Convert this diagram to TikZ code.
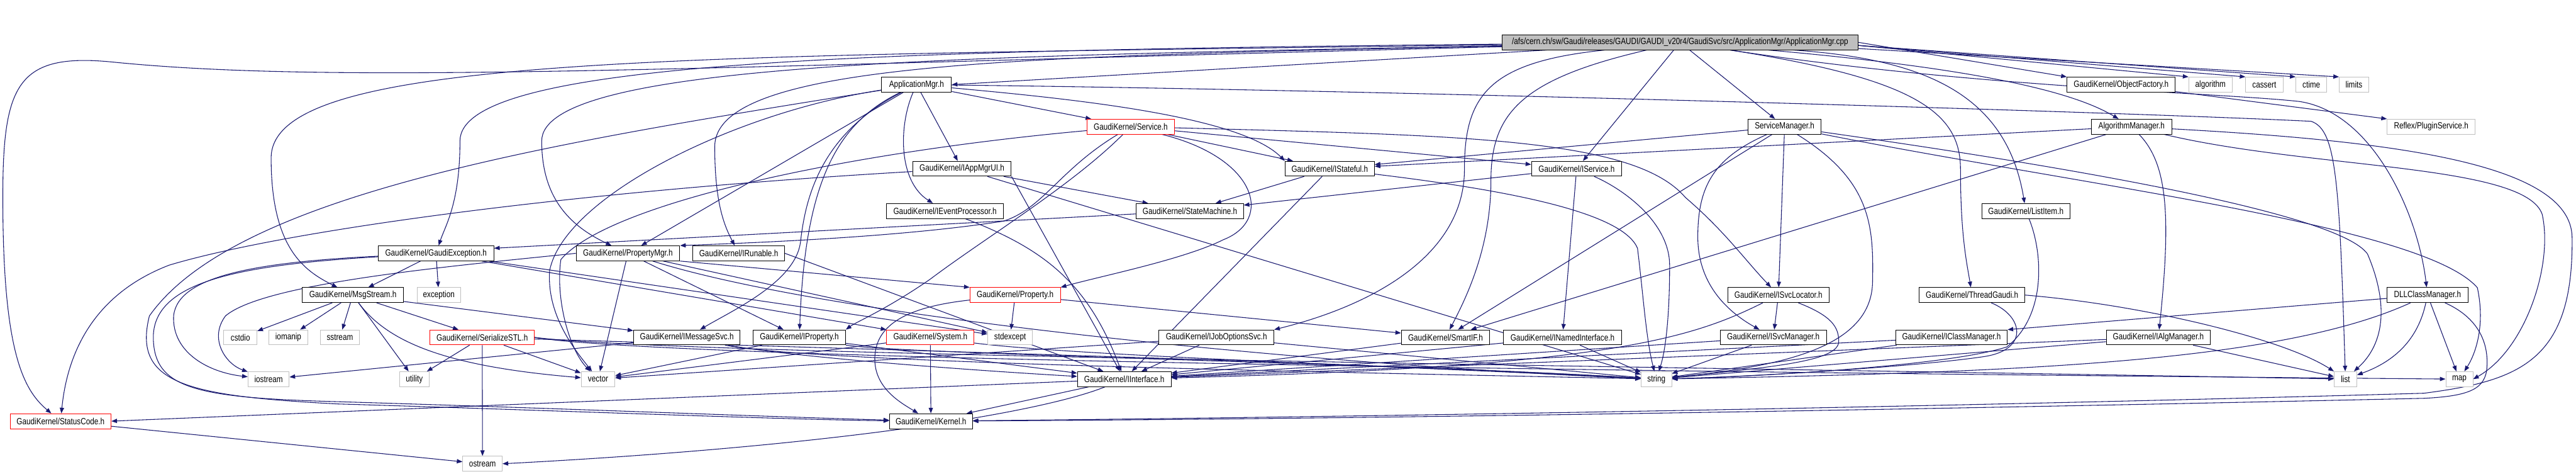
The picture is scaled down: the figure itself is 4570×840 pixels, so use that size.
\documentclass[tikz,border=0pt]{standalone}
\usepackage{fontspec}
\newfontfamily\gfont{Liberation Sans}[FakeStretch=0.82]
\usetikzlibrary{arrows.meta,backgrounds}
\definecolor{edgec}{HTML}{191970}
\definecolor{topfill}{HTML}{BFBFBF}
\definecolor{leafc}{HTML}{BFBFBF}
\tikzset{
 nb/.style={draw=black, fill=white, line width=1pt, inner sep=0pt, minimum height=26.5pt, font=\gfont\fontsize{16}{19}\selectfont, anchor=center},
 nr/.style={nb, draw=red},
 ng/.style={nb, draw=leafc},
 ntop/.style={nb, fill=topfill},
 e/.style={draw=edgec, line width=1.2pt, -{Triangle[length=10pt,width=7.5pt]}},
}
\begin{document}
\begin{tikzpicture}[x=1pt,y=-1pt]
\useasboundingbox (0,0) rectangle (4570,840);
% nodes
\node[ntop, minimum width=631pt] (T) at (2980.5,75) {/afs/cern.ch/sw/Gaudi/releases/GAUDI/GAUDI\_v20r4/GaudiSvc/src/ApplicationMgr/ApplicationMgr.cpp};
\node[nb, minimum width=124pt] (AM) at (1626,150) {ApplicationMgr.h};
\node[nb, minimum width=192pt] (OF) at (3763,150) {GaudiKernel/ObjectFactory.h};
\node[ng, minimum width=77pt] (algo) at (3921.5,150) {algorithm};
\node[ng, minimum width=66pt] (cass) at (4017,150) {cassert};
\node[ng, minimum width=55pt] (ctime) at (4100.5,150) {ctime};
\node[ng, minimum width=52pt] (limits) at (4176,150) {limits};
\node[nr, minimum width=154pt] (SV) at (2006,224.5) {GaudiKernel/Service.h};
\node[nb, minimum width=130pt] (SM) at (3166,224.5) {ServiceManager.h};
\node[nb, minimum width=143pt] (AlgM) at (3781.5,224.5) {AlgorithmManager.h};
\node[ng, minimum width=156pt] (PS) at (4313,224.5) {Reflex/PluginService.h};
\node[nb, minimum width=175pt] (IAU) at (1706.5,299) {GaudiKernel/IAppMgrUI.h};
\node[nb, minimum width=158.5pt] (IST) at (2359,299) {GaudiKernel/IStateful.h};
\node[nb, minimum width=160pt] (IS) at (2797,299) {GaudiKernel/IService.h};
\node[nb, minimum width=207pt] (IEP) at (1676.5,374) {GaudiKernel/IEventProcessor.h};
\node[nb, minimum width=190pt] (SMach) at (2111,374) {GaudiKernel/StateMachine.h};
\node[nb, minimum width=156pt] (LI) at (3594,374) {GaudiKernel/ListItem.h};
\node[nb, minimum width=205pt] (GE) at (773.5,449) {GaudiKernel/GaudiException.h};
\node[nb, minimum width=184pt] (PM) at (1114,449) {GaudiKernel/PropertyMgr.h};
\node[nb, minimum width=163pt] (IR) at (1310.5,449) {GaudiKernel/IRunable.h};
\node[nb, minimum width=180pt] (MS) at (626,523) {GaudiKernel/MsgStream.h};
\node[ng, minimum width=77pt] (exc) at (778.5,523) {exception};
\node[nr, minimum width=160.5pt] (PR) at (1801,523) {GaudiKernel/Property.h};
\node[nb, minimum width=180pt] (ISL) at (3155,523) {GaudiKernel/ISvcLocator.h};
\node[nb, minimum width=187pt] (TG) at (3498.5,523) {GaudiKernel/ThreadGaudi.h};
\node[nb, minimum width=143pt] (DLL) at (4306.5,523) {DLLClassManager.h};
\node[ng, minimum width=59pt] (cstdio) at (426.5,598) {cstdio};
\node[ng, minimum width=69pt] (iomanip) at (511.5,598) {iomanip};
\node[ng, minimum width=68.5pt] (sstream) at (603,598) {sstream};
\node[nr, minimum width=185pt] (SSTL) at (855.5,598) {GaudiKernel/SerializeSTL.h};
\node[nb, minimum width=189pt] (IMS) at (1218.5,598) {GaudiKernel/IMessageSvc.h};
\node[nb, minimum width=164pt] (IP) at (1418,598) {GaudiKernel/IProperty.h};
\node[nr, minimum width=155pt] (SYS) at (1650.5,598) {GaudiKernel/System.h};
\node[ng, minimum width=79.5pt] (stdexc) at (1792,598) {stdexcept};
\node[nb, minimum width=204pt] (IJO) at (2158,598) {GaudiKernel/IJobOptionsSvc.h};
\node[nb, minimum width=157pt] (SIF) at (2564.5,598) {GaudiKernel/SmartIF.h};
\node[nb, minimum width=210pt] (INI) at (2772,598) {GaudiKernel/INamedInterface.h};
\node[nb, minimum width=188pt] (ISM) at (3146,598) {GaudiKernel/ISvcManager.h};
\node[nb, minimum width=198pt] (ICM) at (3462,598) {GaudiKernel/IClassManager.h};
\node[nb, minimum width=184.5pt] (IAM) at (3829,598) {GaudiKernel/IAlgManager.h};
\node[ng, minimum width=73pt] (iostream) at (476.5,672) {iostream};
\node[ng, minimum width=52pt] (utility) at (735,672) {utility};
\node[ng, minimum width=60pt] (nvector) at (1061,672) {vector};
\node[nb, minimum width=166pt] (II) at (1994.5,672) {GaudiKernel/IInterface.h};
\node[ng, minimum width=54pt] (nstring) at (2938.5,672) {string};
\node[ng, minimum width=40pt] (nlist) at (4161,672) {list};
\node[ng, minimum width=48pt] (nmap) at (4363,672) {map};
\node[nr, minimum width=179pt] (SC) at (107.5,746.5) {GaudiKernel/StatusCode.h};
\node[nb, minimum width=147pt] (KE) at (1651.5,746.5) {GaudiKernel/Kernel.h};
\node[ng, minimum width=70pt] (ostream) at (856,822) {ostream};

\begin{scope}[on background layer]
\fill[white] (0,0) rectangle (4570,840);
% top node
\draw[e] (T) -- (AM.east);
\draw[e] (T) -- (SM);
\draw[e] (T) -- (IS);
\draw[e] (T) .. controls (3550,125) and (3690,170) .. (AlgM);
\draw[e] (T.-0.5) -- (OF.north west);
\draw[e] (T.-1) -- (algo.north west);
\draw[e] (T.-1.5) -- (cass.north west);
\draw[e] (T.-1.9) -- (ctime.north west);
\draw[e] (T.-2.2) -- (limits.north west);
\draw[e] (T) .. controls (3420,105) and (3560,170) .. (LI);
\draw[e] (T) .. controls (3400,140) and (3478,200) .. (3478,300) .. controls (3478,420) and (3490,470) .. (TG);
\draw[e] (T) .. controls (3500,155) and (3950,165) .. (4080,180) .. controls (4210,200) and (4290,380) .. (DLL);
\draw[e] (T) .. controls (2700,140) and (2645,200) .. (2645,320) .. controls (2645,440) and (2600,530) .. (SIF);
\draw[e] (T) .. controls (2640,110) and (2598,170) .. (2598,300) .. controls (2598,450) and (2440,540) .. (IJO.north east);
\draw[e] (T) .. controls (1800,100) and (1268,110) .. (1268,260) .. controls (1268,360) and (1285,400) .. (IR);
\draw[e] (T) .. controls (1700,100) and (961,110) .. (961,250) .. controls (961,350) and (1010,400) .. (PM);
\draw[e] (T) .. controls (1500,90) and (816,110) .. (816,250) .. controls (816,360) and (790,400) .. (GE);
\draw[e] (T) .. controls (1200,100) and (481,95) .. (481,280) .. controls (481,440) and (540,480) .. (MS);
\draw[e] (T) .. controls (1200,120) and (600,150) .. (200,110) .. controls (30,93) and (5,150) .. (5,350) .. controls (5,620) and (40,690) .. (SC);
% ApplicationMgr.h
\draw[e] (AM) -- (SV);
\draw[e] (AM) -- (IAU);
\draw[e] (AM) .. controls (1595,220) and (1592,320) .. (IEP);
\draw[e] (AM) .. controls (1900,175) and (2200,205) .. (IST.north west);
\draw[e] (AM) -- (PM);
\draw[e] (AM) .. controls (1480,220) and (1428,330) .. (IP);
\draw[e] (AM) .. controls (1450,240) and (1428,360) .. (1420,430) .. controls (1410,500) and (1300,550) .. (IMS);
\draw[e] (AM) .. controls (1300,200) and (1000,350) .. (975,480) .. controls (970,560) and (1020,620) .. (nvector);
\draw[e] (AM) .. controls (2500,160) and (3800,200) .. (4100,215) .. controls (4145,230) and (4150,320) .. (nlist);
\draw[e] (AM) .. controls (1000,250) and (420,340) .. (265,560) .. controls (235,680) and (330,702) .. (600,716) .. controls (1000,728) and (1400,744) .. (KE);
% Service.h
\draw[e] (SV) -- (IST);
\draw[e] (SV) -- (IS);
\draw[e] (SV) .. controls (2600,240) and (2900,245) .. (2990,350) .. controls (3060,410) and (3095,460) .. (ISL);
\draw[e] (SV) .. controls (1880,300) and (1850,370) .. (1780,392) .. controls (1600,420) and (1350,430) .. (PM.north east);
\draw[e] (SV) .. controls (2230,280) and (2260,390) .. (2170,425) .. controls (2100,460) and (1950,490) .. (PR.north east);
\draw[e] (SV) .. controls (1900,330) and (1750,420) .. (1650,495) .. controls (1570,550) and (1520,570) .. (IP.north east);
\draw[e] (SV) .. controls (1500,270) and (1080,360) .. (995,460) .. controls (985,530) and (1010,620) .. (nvector);
% ServiceManager.h
\draw[e] (SM) -- (IST);
\draw[e] (SM) -- (ISL);
\draw[e] (SM) .. controls (3040,280) and (3012,330) .. (3012,420) .. controls (3012,500) and (3060,550) .. (ISM);
\draw[e] (SM) -- (SIF);
\draw[e] (SM) .. controls (3320,320) and (3324,400) .. (3322,500) .. controls (3320,620) and (3150,650) .. (nstring);
\draw[e] (SM) .. controls (3700,300) and (4150,380) .. (4200,450) .. controls (4230,520) and (4240,600) .. (nlist);
\draw[e] (SM) .. controls (3700,330) and (4300,400) .. (4395,510) .. controls (4410,580) and (4390,630) .. (nmap);
% AlgorithmManager.h
\draw[e] (AlgM) -- (IST);
\draw[e] (AlgM) -- (SIF);
\draw[e] (AlgM) .. controls (3845,290) and (3852,380) .. (IAM);
\draw[e] (AlgM) .. controls (4100,300) and (4480,290) .. (4510,380) .. controls (4530,470) and (4480,620) .. (nmap.east);
\draw[e] (AlgM) .. controls (4250,250) and (4560,290) .. (4563,420) .. controls (4566,640) and (4470,675) .. (4300,697) .. controls (3500,720) and (2500,738) .. (KE);
% DLLClassManager.h
\draw[e] (DLL) -- (ICM.north east);
\draw[e] (DLL) .. controls (4290,600) and (4250,640) .. (nlist);
\draw[e] (DLL) -- (nmap);
\draw[e] (DLL) .. controls (4390,560) and (4415,600) .. (4412,650) .. controls (4410,690) and (4380,702) .. (4300,706) .. controls (3500,724) and (2500,742) .. (KE);
\draw[e] (DLL) .. controls (4050,640) and (3600,660) .. (nstring);
% ObjectFactory.h
\draw[e] (OF) -- (PS.north west);
% IAppMgrUI.h
\draw[e] (IAU) -- (SMach);
\draw[e] (IAU) .. controls (1000,340) and (500,410) .. (300,470) .. controls (170,520) and (120,620) .. (SC);
\draw[e] (IAU.south east) -- (II);
\draw[e] (IAU) -- (nstring);
% IEventProcessor.h
\draw[e] (IEP) .. controls (1850,440) and (1930,500) .. (II);
% IStateful.h
\draw[e] (IST) -- (SMach);
\draw[e] (IST) -- (II);
\draw[e] (IST) .. controls (2700,340) and (2880,380) .. (2905,440) .. controls (2915,520) and (2920,600) .. (nstring);
% IService.h
\draw[e] (IS) -- (SMach);
\draw[e] (IS) -- (INI);
\draw[e] (IS) .. controls (2890,340) and (2962,400) .. (2962,470) .. controls (2962,560) and (2955,620) .. (nstring);
% StateMachine.h
\draw[e] (SMach) -- (GE.5);
% ListItem.h
\draw[e] (LI) .. controls (3625,450) and (3630,560) .. (3560,615) .. controls (3450,650) and (3100,668) .. (nstring);
% ThreadGaudi.h
\draw[e] (TG) .. controls (3590,560) and (3600,620) .. (3520,632) .. controls (3400,650) and (3100,668) .. (nstring);
\draw[e] (TG.east) .. controls (3800,540) and (4050,600) .. (nlist.north west);
% ISvcLocator.h
\draw[e] (ISL) -- (ISM);
\draw[e] (ISL) .. controls (3000,600) and (2850,650) .. (II);
\draw[e] (ISL) .. controls (3250,560) and (3262,580) .. (3262,605) .. controls (3262,640) and (3150,650) .. (nstring);
% row 8 interfaces
\draw[e] (ISM) -- (II);
\draw[e] (ISM) -- (nstring);
\draw[e] (ICM) -- (II);
\draw[e] (ICM) -- (nstring);
\draw[e] (IAM) -- (II);
\draw[e] (IAM) -- (nstring);
\draw[e] (IAM) -- (nlist);
\draw[e] (INI) -- (II);
\draw[e] (INI) -- (nstring);
\draw[e] (SIF) -- (II);
\draw[e] (IJO) -- (II);
\draw[e] (IJO) -- (nvector);
\draw[e] (IJO) -- (nstring);
\draw[e] (IR.east) -- (II);
\draw[e] (IP) -- (II);
\draw[e] (IP) -- (nvector);
\draw[e] (IP) .. controls (1600,628) and (2500,645) .. (nstring);
\draw[e] (IMS) -- (iostream);
\draw[e] (IMS) .. controls (1400,632) and (1700,655) .. (II);
\draw[e] (IMS) .. controls (1450,645) and (2500,662) .. (nstring);
% PropertyMgr.h
\draw[e] (PM) -- (IP);
\draw[e] (PM.south east) -- (PR.north west);
\draw[e] (PM) -- (nvector);
\draw[e] (PM) .. controls (1500,570) and (2400,650) .. (nstring);
\draw[e] (PM) -- (stdexc);
\draw[e] (PM.west) .. controls (820,470) and (470,500) .. (400,560) .. controls (370,600) and (400,645) .. (iostream);
% Property.h
\draw[e] (PR) .. controls (1600,545) and (1550,580) .. (1552,640) .. controls (1554,690) and (1600,715) .. (KE);
\draw[e] (PR) -- (stdexc);
\draw[e] (PR) -- (SIF);
% System.h
\draw[e] (SYS) -- (KE);
\draw[e] (SYS) .. controls (1900,630) and (2500,650) .. (nstring);
\draw[e] (SYS) -- (nvector);
% IInterface.h
\draw[e] (II) -- (KE);
\draw[e] (II) -- (SC.east);
\draw[e] (II) .. controls (1850,730) and (1500,790) .. (ostream.east);
% StatusCode.h
\draw[e] (SC) -- (ostream);
% GaudiException.h
\draw[e] (GE) -- (exc);
\draw[e] (GE) -- (MS);
\draw[e] (GE) .. controls (450,465) and (315,490) .. (308,560) .. controls (305,625) and (370,660) .. (iostream);
\draw[e] (GE) .. controls (420,470) and (270,500) .. (272,600) .. controls (274,690) and (350,705) .. (600,712) .. controls (1000,724) and (1400,740) .. (KE);
\draw[e] (GE) -- (stdexc);
\draw[e] (GE) -- (SYS.north west);
% MsgStream.h
\draw[e] (MS) -- (cstdio);
\draw[e] (MS) -- (iomanip);
\draw[e] (MS) -- (sstream);
\draw[e] (MS) -- (SSTL);
\draw[e] (MS) -- (IMS);
\draw[e] (MS) -- (utility);
\draw[e] (MS) .. controls (690,610) and (800,650) .. (nvector);
% SerializeSTL.h
\draw[e] (SSTL) -- (utility);
\draw[e] (SSTL) -- (nvector);
\draw[e] (SSTL) -- (ostream);
\draw[e] (SSTL) .. controls (1500,618) and (2500,645) .. (nstring);
\draw[e] (SSTL.east) .. controls (1200,630) and (3000,650) .. (nlist);
\draw[e] (SSTL.east) .. controls (1200,640) and (3200,662) .. (nmap);
\end{scope}
\end{tikzpicture}
\end{document}
